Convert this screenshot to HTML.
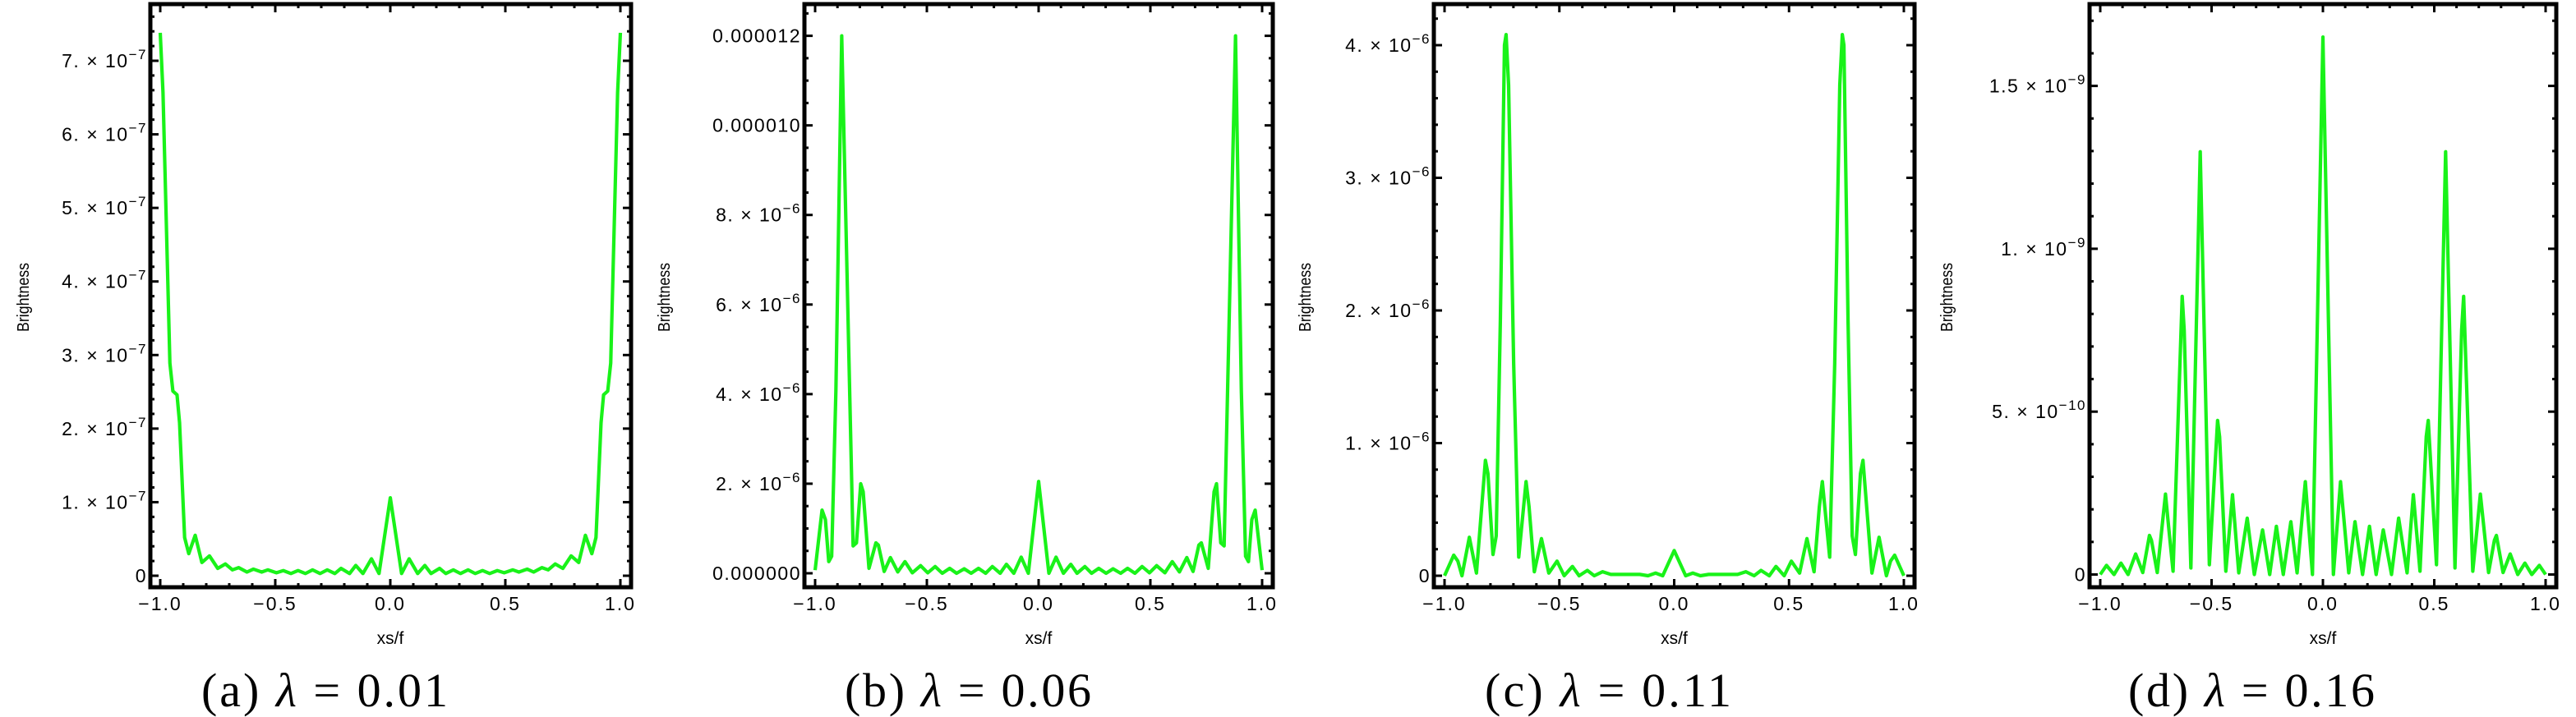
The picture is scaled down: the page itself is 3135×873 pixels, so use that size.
<!DOCTYPE html>
<html><head><meta charset="utf-8"><style>
html,body{margin:0;padding:0;background:#fff;}
svg{display:block;}
</style></head><body>
<svg id="fig" width="3135" height="873" viewBox="0 0 3135 873" xmlns="http://www.w3.org/2000/svg"></svg>
<script>
// ---- data (units: a 1e-7, b 1e-6, c 1e-6, d 1e-10) ----
const xsA = [-1,-0.988,-0.958,-0.945,-0.927,-0.916,-0.894,-0.876,-0.848,-0.819,-0.786,-0.750,-0.717,-0.686,-0.659,-0.623,-0.595,-0.559,-0.532,-0.495,-0.465,-0.432,-0.401,-0.369,-0.338,-0.305,-0.274,-0.241,-0.214,-0.177,-0.150,-0.119,-0.082,-0.049,0,0.049,0.082,0.119,0.150,0.177,0.214,0.241,0.274,0.305,0.338,0.369,0.401,0.432,0.465,0.495,0.532,0.559,0.595,0.623,0.659,0.686,0.717,0.750,0.786,0.819,0.848,0.876,0.894,0.916,0.927,0.945,0.958,0.988,1];
const ysA = [7.38,6.57,2.89,2.51,2.46,2.08,0.52,0.30,0.55,0.18,0.27,0.10,0.16,0.08,0.11,0.05,0.09,0.05,0.08,0.04,0.07,0.03,0.07,0.03,0.08,0.03,0.08,0.03,0.10,0.03,0.14,0.03,0.23,0.03,1.06,0.03,0.23,0.03,0.14,0.03,0.10,0.03,0.08,0.03,0.08,0.03,0.07,0.03,0.07,0.04,0.08,0.05,0.09,0.05,0.11,0.08,0.16,0.10,0.27,0.18,0.55,0.30,0.52,2.08,2.46,2.51,2.89,6.57,7.38];
const xsB = [-1.0,-0.969,-0.954,-0.939,-0.926,-0.907,-0.881,-0.857,-0.830,-0.815,-0.796,-0.785,-0.759,-0.728,-0.717,-0.691,-0.663,-0.630,-0.598,-0.565,-0.528,-0.496,-0.463,-0.431,-0.398,-0.367,-0.333,-0.302,-0.269,-0.237,-0.207,-0.172,-0.144,-0.111,-0.078,-0.046,0,0.046,0.078,0.111,0.144,0.172,0.207,0.237,0.269,0.302,0.333,0.367,0.398,0.431,0.463,0.496,0.528,0.565,0.598,0.630,0.663,0.691,0.717,0.728,0.759,0.785,0.796,0.815,0.830,0.857,0.881,0.907,0.926,0.939,0.954,0.969,1.0];
const ysB = [0.07,1.41,1.2,0.26,0.38,4.08,12.0,6.65,0.61,0.68,2.0,1.82,0.11,0.68,0.63,0.04,0.35,0.03,0.26,0.01,0.17,0.01,0.15,0,0.11,0,0.1,0,0.11,0,0.15,0,0.2,0,0.36,0,2.05,0,0.36,0,0.2,0,0.15,0,0.11,0,0.1,0,0.11,0,0.15,0.01,0.17,0.01,0.26,0.03,0.35,0.04,0.63,0.68,0.11,1.82,2.0,0.68,0.61,6.65,12.0,4.08,0.38,0.26,1.2,1.41,0.07];
const xsC = [-1,-0.960,-0.942,-0.924,-0.892,-0.861,-0.822,-0.811,-0.789,-0.775,-0.757,-0.739,-0.732,-0.721,-0.699,-0.677,-0.645,-0.632,-0.609,-0.578,-0.546,-0.510,-0.479,-0.443,-0.414,-0.378,-0.348,-0.312,-0.276,-0.213,-0.150,-0.114,-0.081,-0.050,0,0.050,0.081,0.114,0.150,0.213,0.276,0.312,0.348,0.378,0.414,0.443,0.479,0.510,0.546,0.578,0.609,0.632,0.645,0.677,0.699,0.721,0.732,0.739,0.757,0.775,0.789,0.811,0.822,0.861,0.892,0.924,0.942,0.960,1];
const ysC = [0,0.155,0.11,0,0.29,0.02,0.87,0.77,0.16,0.3,1.92,4.0,4.08,3.7,1.6,0.14,0.71,0.52,0.03,0.28,0.02,0.11,0,0.07,0,0.04,0,0.03,0.01,0.01,0.01,0,0.02,0,0.19,0,0.02,0,0.01,0.01,0.01,0.03,0,0.04,0,0.07,0,0.11,0.02,0.28,0.03,0.52,0.71,0.14,1.6,3.7,4.08,4.0,1.92,0.3,0.16,0.77,0.87,0.02,0.29,0,0.11,0.155,0];
const xsD = [-1,-0.972,-0.938,-0.907,-0.875,-0.841,-0.809,-0.779,-0.770,-0.744,-0.707,-0.692,-0.673,-0.632,-0.623,-0.593,-0.551,-0.510,-0.473,-0.464,-0.436,-0.406,-0.378,-0.340,-0.308,-0.271,-0.239,-0.209,-0.178,-0.144,-0.116,-0.079,-0.047,0,0.047,0.079,0.116,0.144,0.178,0.209,0.239,0.271,0.308,0.340,0.378,0.406,0.436,0.464,0.473,0.510,0.551,0.593,0.623,0.632,0.673,0.692,0.707,0.744,0.770,0.779,0.809,0.841,0.875,0.907,0.938,0.972,1];
const ysD = [0,0.28,0,0.35,0,0.63,0.06,1.2,1.05,0.06,2.47,1.4,0.1,8.54,7.5,0.2,12.98,0.3,4.73,4.23,0.1,2.45,0.05,1.73,0,1.37,0,1.48,0,1.62,0.05,2.85,0,16.5,0,2.85,0.05,1.62,0,1.48,0,1.37,0,1.73,0.05,2.45,0.1,4.23,4.73,0.3,12.98,0.2,7.5,8.54,0.1,1.4,2.47,0.06,1.05,1.2,0.06,0.63,0,0.35,0,0.28,0];
const xTicks = [-1,-0.5,0,0.5,1];
const xTickLabels = ["\u22121.0","\u22120.5","0.0","0.5","1.0"];
const yTicksA = [0,1,2,3,4,5,6,7];
const yLabelsA = [["0",""],["1.","\u22127"],["2.","\u22127"],["3.","\u22127"],["4.","\u22127"],["5.","\u22127"],["6.","\u22127"],["7.","\u22127"]];
const yTicksB = [0,2,4,6,8,10,12];
const yLabelsB = [["0.000000",null],["2.","\u22126"],["4.","\u22126"],["6.","\u22126"],["8.","\u22126"],["0.000010",null],["0.000012",null]];
const yTicksC = [0,1,2,3,4];
const yLabelsC = [["0",""],["1.","\u22126"],["2.","\u22126"],["3.","\u22126"],["4.","\u22126"]];
const yTicksD = [0,5,10,15];
const yLabelsD = [["0",""],["5.","\u221210"],["1.","\u22129"],["1.5","\u22129"]];
const captions = ["(a)","(b)","(c)","(d)"];
const lambdas = ["0.01","0.06","0.11","0.16"];

// ---- layout ----
const panels = [
 {id:'a',L:183,R:768,x0:195,x1:755,y0px:701,yTop:74,vTop:7,minor:0.2,xs:xsA,ys:ysA,ticks:yTicksA,labels:yLabelsA,bx:28,cap:395},
 {id:'b',L:979,R:1549,x0:992,x1:1536,y0px:698,yTop:43.6,vTop:12,minor:0.5,xs:xsB,ys:ysB,ticks:yTicksB,labels:yLabelsB,bx:808,cap:1178},
 {id:'c',L:1745,R:2330,x0:1758,x1:2317,y0px:701,yTop:55,vTop:4,minor:0.2,xs:xsC,ys:ysC,ticks:yTicksC,labels:yLabelsC,bx:1588,cap:1957},
 {id:'d',L:2543,R:3111,x0:2556,x1:3098,y0px:699.5,yTop:104.6,vTop:15,minor:1,xs:xsD,ys:ysD,ticks:yTicksD,labels:yLabelsD,bx:2369,cap:2740}
];
const T=5, B=715;
const NS='http://www.w3.org/2000/svg';
const svg=document.getElementById('fig');
function mk(tag,attrs,parent){const e=document.createElementNS(NS,tag);for(const k in attrs)e.setAttribute(k,attrs[k]);(parent||svg).appendChild(e);return e;}
const FONT='"Liberation Sans", Arial, sans-serif';

panels.forEach((p,i)=>{
  const g=mk('g',{});
  
  
  const sx=v=>p.x0+(v+1)/2*(p.x1-p.x0);
  const sy=v=>p.y0px-(v/p.vTop)*(p.y0px-p.yTop);
  let d='';
  p.xs.forEach((x,j)=>{d+=(j?'L':'M')+sx(x).toFixed(2)+' '+sy(p.ys[j]).toFixed(2);});
  const path=mk('path',{d:d,fill:'none',stroke:'#19f219','stroke-width':4.2,'stroke-linejoin':'round'},g);
  
  
  const tg=mk('g',{stroke:'#000','stroke-width':3},g);
  
  
  for(let k=0;k<=20;k++){
    const v=-1+k*0.1, X=sx(v), len=(k%5===0)?10:5;
    mk('line',{x1:X,y1:B,x2:X,y2:B-len},tg);
    mk('line',{x1:X,y1:T,x2:X,y2:T+len},tg);
  }
  const maxV=(T-p.y0px)/(-(p.y0px-p.yTop)/p.vTop);
  const nMinor=Math.floor(maxV/p.minor+1e-6);
  for(let k=0;k<=nMinor;k++){
    const v=k*p.minor, Y=sy(v);
    const major=p.ticks.some(t=>Math.abs(t-v)<1e-6);
    const len=major?10:5;
    mk('line',{x1:p.L,y1:Y,x2:p.L+len,y2:Y},tg);
    mk('line',{x1:p.R,y1:Y,x2:p.R-len,y2:Y},tg);
  }
  const fr=mk('rect',{x:p.L,y:T,width:p.R-p.L,height:B-T,fill:'none',stroke:'#000','stroke-width':5},g);
  
  
  xTicks.forEach((v,k)=>{
    const t=mk('text',{x:sx(v),y:743,'text-anchor':'middle','font-family':FONT,'font-size':23,'letter-spacing':2},g);
    t.textContent=xTickLabels[k];
    
    
  });
  p.ticks.forEach((v,k)=>{
    const lab=p.labels[k];
    const t=mk('text',{x:p.L-4,y:sy(v)+8,'text-anchor':'end','font-family':FONT,'font-size':23,'letter-spacing':1.5},g);
    
    
    if(lab[1]){
      const a=mk('tspan',{},t);a.textContent=lab[0]+' \u00d7 10';
      const b=mk('tspan',{dy:-10,'font-size':17},t);b.textContent=lab[1];
    } else t.textContent=lab[0];
  });
  const xt=mk('text',{x:sx(0),y:784,'text-anchor':'middle','font-family':FONT,'font-size':21},g);
  xt.textContent='xs/f';
  
  
  const yt=mk('text',{x:p.bx,y:355,'text-anchor':'middle','font-family':FONT,'font-size':20,'textLength':84,'lengthAdjust':'spacingAndGlyphs',transform:'rotate(-90 '+(p.bx+7)+' 355)'},g);
  yt.textContent='Brightness';
  
  
  const c=mk('text',{x:p.cap-150,y:860,'font-family':'"Liberation Serif", serif','font-size':58,'textLength':300,'lengthAdjust':'spacing'},g);
  
  
  const c1=mk('tspan',{},c);c1.textContent=captions[i]+' ';
  const c2=mk('tspan',{'font-style':'italic'},c);c2.textContent='\u03bb';
  const c3=mk('tspan',{},c);c3.textContent=' = '+lambdas[i];
});
</script>
</body></html>
